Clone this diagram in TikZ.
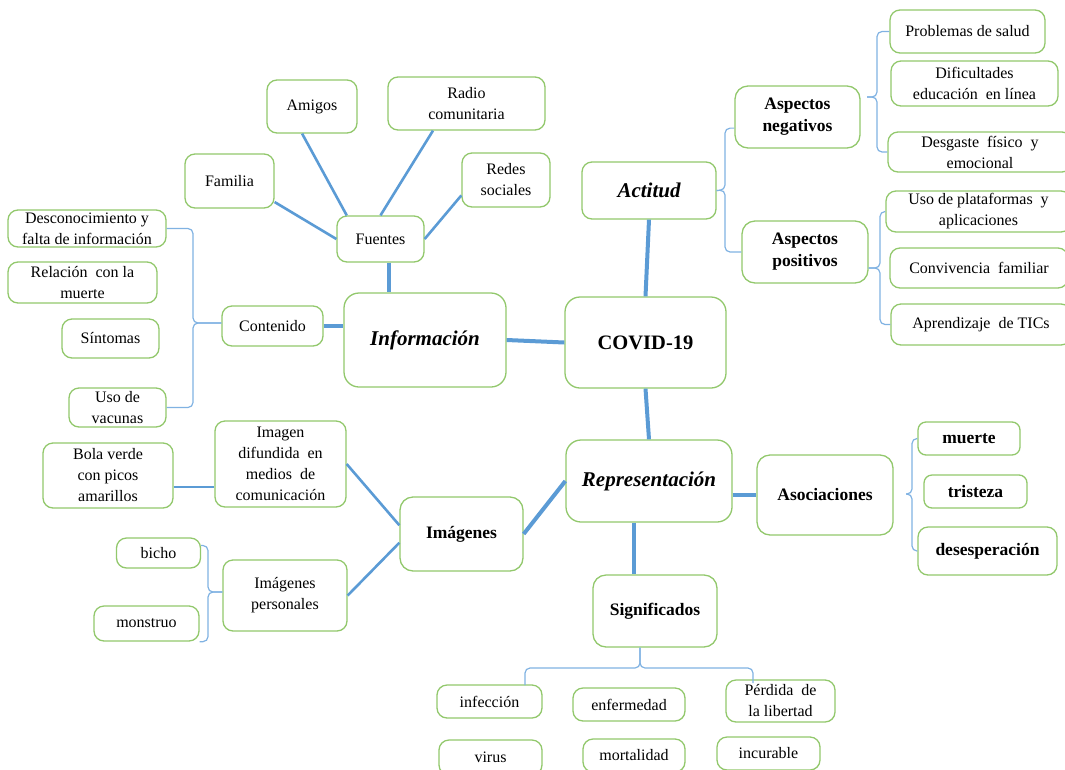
\documentclass[tikz,border=0pt]{standalone}
\usepackage{fontspec}
\setmainfont{Liberation Serif}
\usepackage{tikz}
\usetikzlibrary{positioning,calc}
\definecolor{boxgreen}{RGB}{146,200,108}
\definecolor{linkblue}{RGB}{91,155,213}
\definecolor{brkblue}{RGB}{128,178,226}
\tikzset{
    box/.style = {draw=boxgreen, line width=1.3pt, rounded corners=10pt, align=center,
                  inner sep=1pt, fill=white, font=\fontsize{16}{21}\selectfont},
    hub/.style = {box, rounded corners=15pt, font=\fontsize{21}{25}\selectfont\bfseries\itshape},
    topic/.style = {box, rounded corners=13pt, font=\fontsize{17.5}{22}\selectfont\bfseries},
    link/.style = {draw=linkblue, line width=4pt},
    spoke/.style = {draw=linkblue, line width=2.6pt},
    brk/.style = {draw=brkblue, line width=1.2pt, rounded corners=5pt},
    sz/.style 2 args = {minimum width=#1, minimum height=#2}
}

\begin{document}
\begin{tikzpicture}[x=1pt, y=-1pt]
  \clip (0,0) rectangle (1065,769);

  % centre
  \node[hub, sz={161}{91}, font=\fontsize{20.5}{24}\selectfont\bfseries] (cov) at (645.5,342.5) {COVID-19};
  \node[hub, sz={162}{94}] (info) at (425,340) {Información};
  \node[hub, sz={166}{82}] (rep) at (649,481) {Representación};
  \node[hub, sz={134}{57}, rounded corners=10pt] (act) at (649,190.5) {Actitud};

  % fuentes
  \node[box, sz={87}{46}] (fue) at (380.5,239) {Fuentes};
  \node[box, sz={89}{54}] (fam) at (229.5,181) {Familia};
  \node[box, sz={90}{53}] (ami) at (312,106.5) {Amigos};
  \node[box, sz={157}{53}] (rad) at (466.5,103.5) {Radio\\comunitaria};
  \node[box, sz={88}{54}] (red) at (506,180) {Redes\\sociales};

  % contenido
  \node[box, sz={101}{40}] (con) at (272.5,326) {Contenido};
  \node[box, sz={158}{37}] (des) at (87,228.5) {Desconocimiento y\\falta de información};
  \node[box, sz={149}{41}] (rel) at (82.5,282.5) {Relación \ con la\\muerte};
  \node[box, sz={97}{39}] (sin) at (110.5,338.5) {Síntomas};
  \node[box, sz={97}{39}] (vac) at (117.5,407.5) {Uso de\\vacunas};

  % imagenes
  \node[box, sz={131}{86}] (img) at (280.5,464) {Imagen\\difundida \ en\\medios \ de\\comunicación};
  \node[box, sz={130}{65}] (bol) at (108,475.5) {Bola verde\\con picos\\amarillos};
  \node[topic, sz={123}{74}] (ims) at (461.5,534) {Imágenes};
  \node[box, sz={84}{30}] (bic) at (158.5,553) {bicho};
  \node[box, sz={105}{35}] (mon) at (146.5,623.5) {monstruo};
  \node[box, sz={124}{71}] (ipe) at (285,595.5) {Imágenes\\personales};

  % asociaciones
  \node[topic, sz={136}{80}] (aso) at (825,495) {Asociaciones};
  \node[topic, sz={102}{33}, rounded corners=8pt] (mue) at (969,438.5) {muerte};
  \node[topic, sz={103}{33}, rounded corners=8pt] (tri) at (975.5,491.5) {tristeza};
  \node[topic, sz={139}{48}, rounded corners=10pt] (dse) at (987.5,551) {desesperación};

  % significados
  \node[topic, sz={124}{72}] (sig) at (655,611) {Significados};
  \node[box, sz={105}{33}] (inf) at (489.5,701.5) {infección};
  \node[box, sz={112}{33}] (enf) at (629,704.5) {enfermedad};
  \node[box, sz={109}{42}] (per) at (780.5,701) {Pérdida \ de\\la libertad};
  \node[box, sz={103}{35}] (vir) at (490.5,757.5) {virus};
  \node[box, sz={102}{33}] (mor) at (634,755.5) {mortalidad};
  \node[box, sz={103}{33}] (inc) at (768.5,753.5) {incurable};

  % actitud
  \node[topic, sz={125}{62}] (aneg) at (797.5,117) {Aspectos\\negativos};
  \node[topic, sz={126}{62}] (apos) at (805,252) {Aspectos\\positivos};
  \node[box, sz={155}{43}] (pro) at (967.5,31.5) {Problemas de salud};
  \node[box, sz={167}{45}] (dif) at (974.5,83.5) {Dificultades\\educación \ en línea};
  \node[box, sz={184}{40}] (dsg) at (980,152) {Desgaste \ físico \ y\\emocional};
  \node[box, sz={185}{41}] (upl) at (978.5,211.5) {Uso de plataformas \ y\\aplicaciones};
  \node[box, sz={178}{40}] (cvf) at (979,268) {Convivencia \ familiar};
  \node[box, sz={180}{41}] (atc) at (981,324.5) {Aprendizaje \ de TICs};

  % main links
  \path (info.east) edge[link] (cov.west);
  \path (cov.north) edge[link] (act.south);
  \path (cov.south) edge[link] (rep.north);
  \path (fue.290) edge[link] (fue.290 |- info.north);
  \path (con.east) edge[link] (con.east -| info.west);
  \path (rep.west) edge[link] (ims.east);
  \path (rep.east |- aso.west) edge[link] (aso.west);
  \path (rep.250) edge[link] (rep.250 |- sig.north);

  % spokes
  \path (bol.-10) edge[spoke] (bol.-10 -| img.west);
  \path (img.east) edge[spoke] (ims.172);
  \path (ipe.east) edge[spoke] (ims.188);
  \path (fam.-25) edge[spoke] (fue.west);
  \path (ami.250) edge[spoke] (fue.145);
  \path (rad.219) edge[spoke] (fue.north);
  \path (red.199) edge[spoke] (fue.east);

  % brackets
  \coordinate (conM) at (193,323);
  \draw[brk] (des.east) -| (conM) -- (conM -| con.west);
  \draw[brk] (vac.east) -| (conM) -- (conM -| con.west);

  \coordinate (actM) at (725,190);
  \draw[brk] (aneg.190) -| (actM) -- (act.east);
  \draw[brk] (apos.west) -| (actM) -- (act.east);

  \coordinate (anM) at (877,97);
  \coordinate (anT) at (867,97);
  \draw[brk] (pro.west) -| (anM) -- (anT);
  \draw[brk] (dsg.west) -| (anM) -- (anT);

  \coordinate (apM) at (880,268);
  \draw[brk] (upl.west) -| (apM) -- (apM -| apos.east);
  \draw[brk] (atc.west) -| (apM) -- (apM -| apos.east);

  \coordinate (asM) at (912,494);
  \coordinate (asT) at (906,494);
  \draw[brk] (mue.west) -| (asM) -- (asT);
  \draw[brk] (dse.west) -| (asM) -- (asT);

  \coordinate (ipM) at (208,592);
  \draw[brk] (bic.10) -| (ipM) -- (ipM -| ipe.west);
  \draw[brk] (mon.south east) -| (ipM) -- (ipM -| ipe.west);

  \coordinate (sigM) at (640,668);
  \coordinate (sigA) at (525,685);
  \coordinate (sigB) at (753,683);
  \draw[brk] (sigA) |- (sigM) -- (sigM |- sig.south);
  \draw[brk] (sigB) |- (sigM) -- (sigM |- sig.south);
\end{tikzpicture}
\end{document}
